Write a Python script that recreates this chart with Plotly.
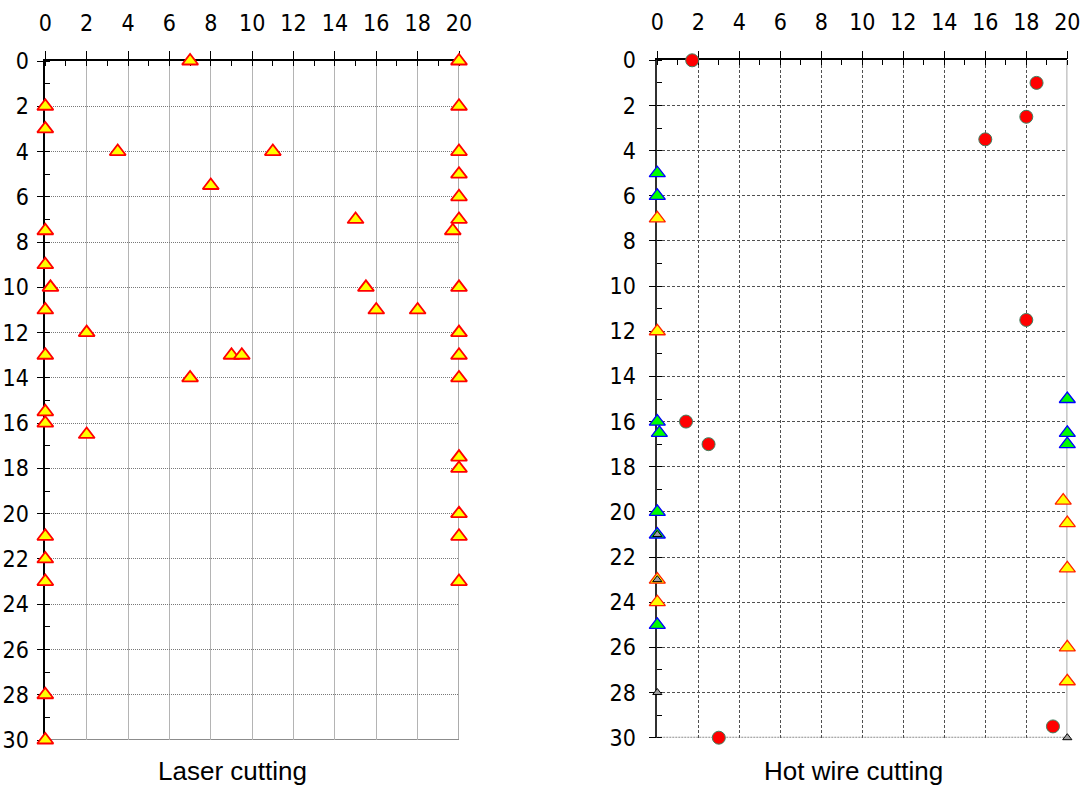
import plotly.graph_objects as go

# ---- Laser cutting: defect positions (x across, y down) ----
laser_x = [7, 20, 0, 20, 0, 3.5, 11, 20, 20, 8, 20, 15, 20, 0, 19.7, 0, 0.25, 15.5, 20, 0,
           16, 18, 2, 20, 0, 9, 9.5, 20, 7, 20, 0, 0, 2, 20, 20, 20, 0, 20, 0, 0, 20, 0, 0]
laser_y = [0, 0, 2, 2, 3, 4, 4, 4, 5, 5.5, 6, 7, 7, 7.5, 7.5, 9, 10, 10, 10, 11,
           11, 11, 12, 12, 13, 13, 13, 13, 14, 14, 15.5, 16, 16.5, 17.5, 18, 20, 21, 21, 22, 23, 23, 28, 30]

# ---- Hot wire cutting ----
hw_circle_x = [1.7, 18.5, 18, 16, 18, 1.4, 2.5, 3, 19.3]
hw_circle_y = [0, 1, 2.5, 3.5, 11.5, 16, 17, 30, 29.5]
hw_green_x = [0, 0, 0, 0.1, 0, 0, 0, 20, 20, 20]
hw_green_y = [5, 6, 16, 16.5, 20, 21, 25, 15, 16.5, 17]
hw_yellow_x = [0, 0, 0, 0, 19.8, 20, 20, 20, 20]
hw_yellow_y = [7, 12, 23, 24, 19.5, 20.5, 22.5, 26, 27.5]
hw_gray_x = [0, 0, 0, 20]
hw_gray_y = [21, 23, 28, 30]

panel_titles = ["Laser cutting", "Hot wire cutting"]

W, H = 1082, 785
tick_font = dict(family="DejaVu Sans Condensed", size=23, color="black")

fig = go.Figure()

fig.add_trace(go.Scatter(
    x=laser_x, y=laser_y, mode="markers", xaxis="x", yaxis="y", cliponaxis=False,
    marker=dict(symbol="triangle-up", size=14, color="#FFFF00",
                line=dict(color="#FF0000", width=1.8)),
    showlegend=False))

fig.add_trace(go.Scatter(
    x=hw_circle_x, y=hw_circle_y, mode="markers", xaxis="x2", yaxis="y2", cliponaxis=False,
    marker=dict(symbol="circle", size=13, color="#FF0000",
                line=dict(color="#3F8060", width=1)),
    showlegend=False))
fig.add_trace(go.Scatter(
    x=hw_green_x, y=hw_green_y, mode="markers", xaxis="x2", yaxis="y2", cliponaxis=False,
    marker=dict(symbol="triangle-up", size=14, color="#00FF00",
                line=dict(color="#0000FF", width=1.3)),
    showlegend=False))
fig.add_trace(go.Scatter(
    x=hw_yellow_x, y=hw_yellow_y, mode="markers", xaxis="x2", yaxis="y2", cliponaxis=False,
    marker=dict(symbol="triangle-up", size=14, color="#FFFF00",
                line=dict(color="#FF2200", width=1.3)),
    showlegend=False))
fig.add_trace(go.Scatter(
    x=hw_gray_x, y=hw_gray_y, mode="markers", xaxis="x2", yaxis="y2", cliponaxis=False,
    marker=dict(symbol="triangle-up", size=8, color="#A0A0A0",
                line=dict(color="#000000", width=1)),
    showlegend=False))


def x_axis(domain, anchor, gridcolor, griddash):
    return dict(domain=domain, anchor=anchor, range=[0, 20], side="top",
                tick0=0, dtick=2, ticks="outside", ticklen=8, tickcolor="black",
                tickwidth=1, showline=True, linecolor="black", linewidth=1.5,
                showgrid=True, gridcolor=gridcolor, griddash=griddash, gridwidth=1,
                zeroline=False, tickfont=tick_font, ticklabelstandoff=11,
                automargin=False, layer="below traces",
                minor=dict(dtick=1, ticks="inside", ticklen=5, tickcolor="black",
                           showgrid=False),
                fixedrange=True)


def y_axis(domain, anchor, gridcolor, griddash, linecolor, standoff):
    return dict(domain=domain, anchor=anchor, range=[30, 0],
                tick0=0, dtick=2, ticks="outside", ticklen=7, tickcolor="black",
                tickwidth=1, showline=True, linecolor=linecolor, linewidth=1.5,
                showgrid=True, gridcolor=gridcolor, griddash=griddash, gridwidth=1,
                zeroline=False, tickfont=tick_font, ticklabelstandoff=standoff,
                automargin=False, layer="below traces",
                minor=dict(dtick=1, ticks="inside", ticklen=5, tickcolor="black",
                           showgrid=False),
                fixedrange=True)


left_x = [45.3 / W, 459 / W]
left_y = [1 - 740 / H, 1 - 61 / H]
right_x = [657.3 / W, 1067.3 / W]
right_y = [1 - 737.7 / H, 1 - 60.3 / H]

fig.update_layout(
    width=W, height=H, autosize=False,
    margin=dict(l=0, r=0, t=0, b=0, autoexpand=False),
    paper_bgcolor="white", plot_bgcolor="white",
    xaxis=x_axis(left_x, "y", "#B4B4B4", "solid"),
    yaxis=y_axis(left_y, "x", "#787878", "1px,1px", "black", 3),
    xaxis2=x_axis(right_x, "y2", "#505050", "3px,2px"),
    yaxis2=y_axis(right_y, "x2", "#505050", "3px,2px", "#303030", 8),
)

# right and bottom frame edges of each panel
shapes = [
    dict(type="line", xref="x", yref="y", x0=20, x1=20, y0=0, y1=30,
         line=dict(color="#909090", width=1.5), layer="below"),
    dict(type="line", xref="x", yref="y", x0=0, x1=20, y0=30, y1=30,
         line=dict(color="#8C8C8C", width=2), layer="below"),
    dict(type="line", xref="x2", yref="y2", x0=20, x1=20, y0=0, y1=30,
         line=dict(color="#8C8C8C", width=1.5), layer="below"),
    dict(type="line", xref="x2", yref="y2", x0=0, x1=20, y0=30, y1=30,
         line=dict(color="#8C8C8C", width=2, dash="2px,1px"), layer="below"),
]
fig.update_layout(shapes=shapes)

title_font = dict(family="Liberation Sans, Arial", size=26, color="black")
fig.add_annotation(text=panel_titles[0], xref="paper", yref="paper",
                   x=232 / W, y=0, xanchor="center", yanchor="bottom", yshift=-2,
                   showarrow=False, font=title_font, borderpad=0)
fig.add_annotation(text=panel_titles[1], xref="paper", yref="paper",
                   x=853 / W, y=0, xanchor="center", yanchor="bottom", yshift=-2,
                   showarrow=False, font=title_font, borderpad=0)

fig.write_html("out.html")
